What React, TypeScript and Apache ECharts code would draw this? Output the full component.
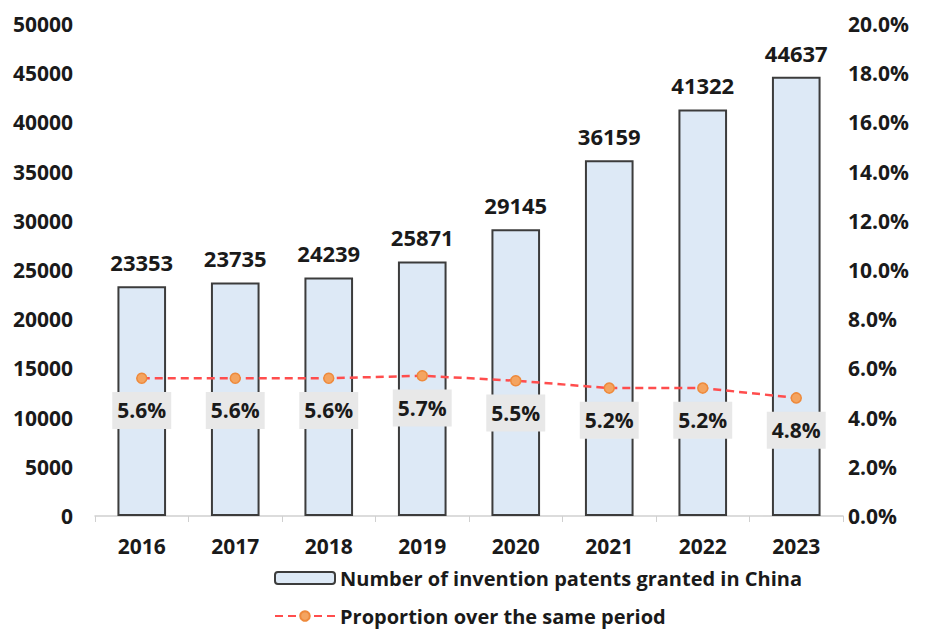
import React, { useEffect, useRef } from "react";
import * as echarts from "echarts";

const years = ["2016", "2017", "2018", "2019", "2020", "2021", "2022", "2023"];
const patents = [23353, 23735, 24239, 25871, 29145, 36159, 41322, 44637];
const proportion = [5.6, 5.6, 5.6, 5.7, 5.5, 5.2, 5.2, 4.8];
const barName = "Number of invention patents granted in China";
const lineName = "Proportion over the same period";

const FONT = "'Open Sans', 'Noto Sans', sans-serif";

export default function App() {
  const ref = useRef<HTMLDivElement>(null);
  useEffect(() => {
    if (!ref.current) return;
    const chart = echarts.init(ref.current, undefined, { renderer: "svg" });
    const legendText = {
      fontSize: 20,
      lineHeight: 20,
      fontWeight: "bold",
      color: "#1a1a1a",
      fontFamily: FONT,
    };
    chart.setOption({
      animation: false,
      backgroundColor: "#ffffff",
      textStyle: { fontFamily: FONT },
      grid: { left: 95, right: 90, top: 24, bottom: 114, containLabel: false },
      legend: [
        {
          left: 274,
          top: 568,
          padding: 0,
          itemWidth: 60,
          itemHeight: 12,
          itemGap: 4,
          textStyle: legendText,
          data: [{ name: barName }],
        },
        {
          left: 274,
          top: 606,
          padding: 0,
          itemWidth: 60,
          itemHeight: 12,
          itemGap: 4,
          textStyle: legendText,
          data: [{ name: lineName }],
        },
      ],
      xAxis: {
        type: "category",
        data: years,
        axisLine: { lineStyle: { color: "#d0d0d0", width: 1.5 } },
        axisTick: { show: true, length: 6, lineStyle: { color: "#d0d0d0" } },
        axisLabel: { fontSize: 21, fontWeight: "bold", color: "#1a1a1a", margin: 19, fontFamily: FONT },
      },
      yAxis: [
        {
          type: "value",
          min: 0,
          max: 50000,
          interval: 5000,
          splitLine: { show: false },
          axisLine: { show: false },
          axisTick: { show: false },
          axisLabel: {
            fontSize: 21,
            fontWeight: "bold",
            color: "#1a1a1a",
            margin: 22,
            fontFamily: FONT,
            formatter: (v: number) => String(v),
          },
        },
        {
          type: "value",
          min: 0,
          max: 20,
          interval: 2,
          splitLine: { show: false },
          axisLine: { show: false },
          axisTick: { show: false },
          axisLabel: {
            fontSize: 21,
            fontWeight: "bold",
            color: "#1a1a1a",
            margin: 5,
            fontFamily: FONT,
            formatter: (v: number) => v.toFixed(1) + "%",
          },
        },
      ],
      series: [
        {
          name: barName,
          type: "bar",
          data: patents,
          barWidth: "52%",
          itemStyle: { color: "#dde9f6", borderColor: "#3c3c3c", borderWidth: 2 },
          label: {
            show: true,
            position: "top",
            distance: 13,
            fontSize: 22,
            fontWeight: "bold",
            color: "#1a1a1a",
            fontFamily: FONT,
          },
        },
        {
          name: lineName,
          type: "line",
          yAxisIndex: 1,
          data: proportion,
          symbol: "circle",
          symbolSize: 10,
          itemStyle: { color: "#f4a460", borderColor: "#ee8a3c", borderWidth: 1.5 },
          lineStyle: { color: "#ff4d4d", width: 2.5, type: [8, 5] },
          label: {
            show: true,
            position: "bottom",
            distance: 8,
            formatter: (p: any) => p.value.toFixed(1) + "%",
            fontSize: 21,
            fontWeight: "bold",
            color: "#1a1a1a",
            fontFamily: FONT,
            backgroundColor: "#e8e8e8",
            padding: [8, 5, 8, 5],
          },
        },
      ],
    });
    return () => chart.dispose();
  }, []);
  return (
    <div
      ref={ref}
      style={{ position: "absolute", left: 0, top: 0, width: 933, height: 630 }}
    />
  );
}
